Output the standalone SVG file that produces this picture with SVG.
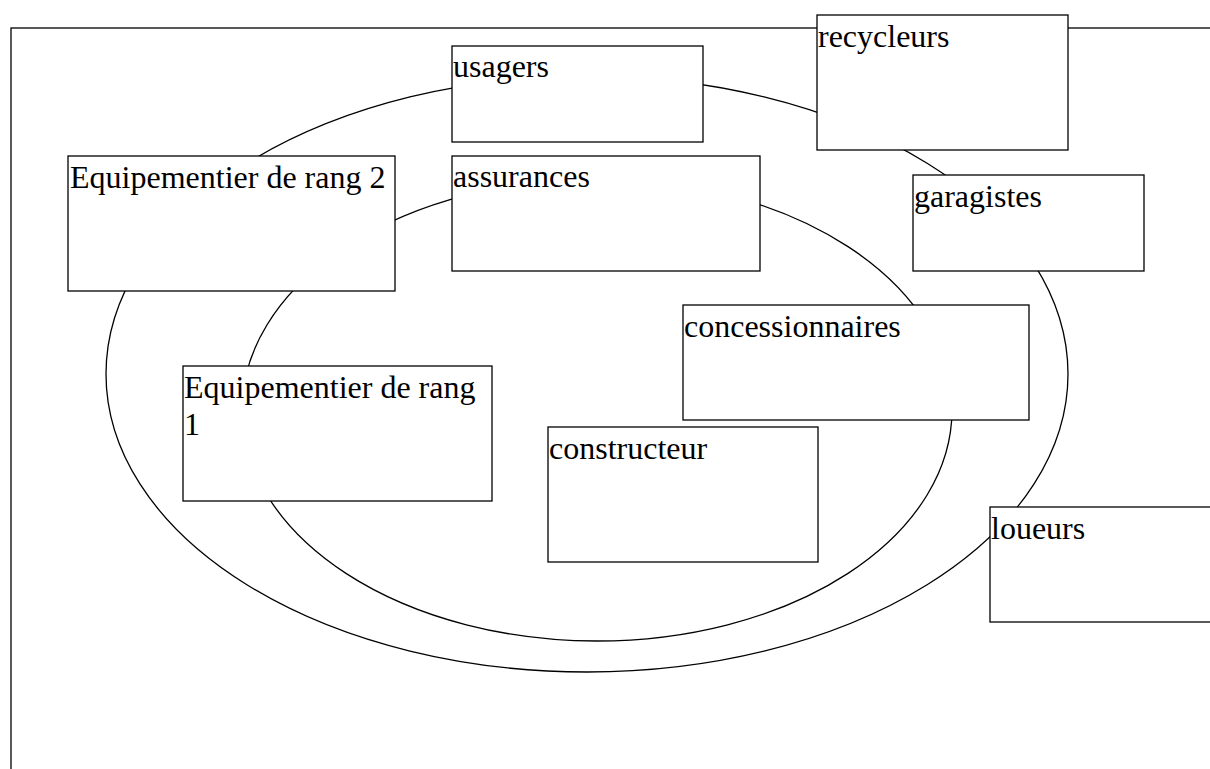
<svg xmlns="http://www.w3.org/2000/svg" width="1210" height="769" viewBox="0 0 1210 769">
<style>
.box{fill:#fff;stroke:#000;stroke-width:1.3}
.ell{fill:none;stroke:#000;stroke-width:1.3}
.lbl{font-family:"Liberation Serif","Times New Roman",serif;font-size:32px;fill:#000}
</style>
<rect x="0" y="0" width="1210" height="769" fill="#fff"/>
<rect id="frame" x="11" y="28" width="1260" height="800" fill="none" stroke="#000" stroke-width="1.3"/>
<g id="connectors">
<ellipse class="ell" cx="587" cy="374" rx="481" ry="298"/>
<ellipse class="ell" cx="597" cy="410" rx="355" ry="231"/>
</g>
<g id="usagers"><rect class="box" x="452" y="46" width="251" height="96"/><text class="lbl" x="453" y="77">usagers</text></g>
<g id="recycleurs"><rect class="box" x="817" y="15" width="251" height="135"/><text class="lbl" x="818" y="47">recycleurs</text></g>
<g id="equip2"><rect class="box" x="68" y="156" width="327" height="135"/><text class="lbl" x="70" y="188">Equipementier de rang 2</text></g>
<g id="assurances"><rect class="box" x="452" y="156" width="308" height="115"/><text class="lbl" x="453" y="187">assurances</text></g>
<g id="garagistes"><rect class="box" x="913" y="175" width="231" height="96"/><text class="lbl" x="914" y="207">garagistes</text></g>
<g id="concessionnaires"><rect class="box" x="683" y="305" width="346" height="115"/><text class="lbl" x="684" y="337">concessionnaires</text></g>
<g id="equip1"><rect class="box" x="183" y="366" width="309" height="135"/><text class="lbl" x="184" y="398">Equipementier de rang<tspan x="184" y="435">1</tspan></text></g>
<g id="constructeur"><rect class="box" x="548" y="427" width="270" height="135"/><text class="lbl" x="549" y="459">constructeur</text></g>
<g id="loueurs"><rect class="box" x="990" y="507" width="260" height="115"/><text class="lbl" x="991" y="539">loueurs</text></g>
</svg>
